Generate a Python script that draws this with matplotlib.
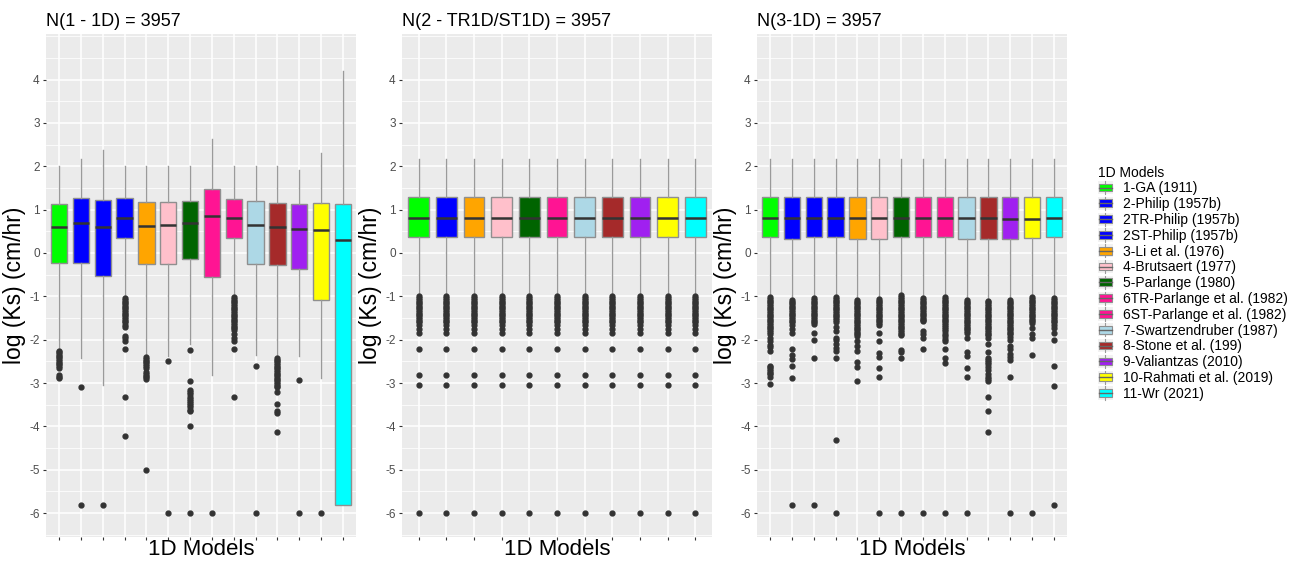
import matplotlib
matplotlib.use("Agg")
import matplotlib.pyplot as plt
from matplotlib.patches import Rectangle, Patch
from matplotlib.lines import Line2D
from matplotlib.legend_handler import HandlerBase
from matplotlib.ticker import MultipleLocator

plt.rcParams["font.family"] = ["Liberation Sans", "DejaVu Sans"]

# ---------------------------------------------------------------- data
models = ["1-GA (1911)", "2-Philip (1957b)", "2TR-Philip (1957b)", "2ST-Philip (1957b)",
          "3-Li et al. (1976)", "4-Brutsaert (1977)", "5-Parlange (1980)",
          "6TR-Parlange et al. (1982)", "6ST-Parlange et al. (1982)",
          "7-Swartzendruber (1987)", "8-Stone et al. (199)", "9-Valiantzas (2010)",
          "10-Rahmati et al. (2019)", "11-Wr (2021)"]
model_colors = ["#00FF00", "#0000FF", "#0000FF", "#0000FF", "#FFA500", "#FFC0CB",
                "#006400", "#FF1493", "#FF1493", "#ADD8E6", "#A52A2A", "#A020F0",
                "#FFFF00", "#00FFFF"]

titles = ["N(1 - 1D) = 3957", "N(2 - TR1D/ST1D) = 3957", "N(3-1D) = 3957"]

# Panel 1 : all 14 models
p1_models = list(range(14))
p1_q1 = [-0.22, -0.23, -0.52, 0.34, -0.25, -0.25, -0.14, -0.55, 0.34, -0.25, -0.27, -0.37, -1.09, -5.82]
p1_med = [0.59, 0.69, 0.61, 0.81, 0.63, 0.65, 0.68, 0.85, 0.81, 0.65, 0.59, 0.55, 0.54, 0.30]
p1_q3 = [1.14, 1.27, 1.23, 1.26, 1.18, 1.18, 1.21, 1.48, 1.25, 1.20, 1.15, 1.12, 1.15, 1.14]
p1_whislo = [-2.23, -2.42, -3.05, -1.00, -2.38, -2.38, -2.09, -2.81, -1.00, -2.35, -2.40, -2.38, -2.88, -5.82]
p1_whishi = [2.00, 2.17, 2.37, 2.00, 2.00, 2.00, 2.00, 2.62, 2.00, 2.00, 2.00, 1.92, 2.31, 4.20]
p1_fliers = [
    [-2.25, -2.29, -2.33, -2.37, -2.41, -2.45, -2.49, -2.53, -2.57, -2.61, -2.65, -2.81, -2.85, -2.88],
    [-3.09, -5.82],
    [-5.82],
    [-1.04, -1.08, -1.12, -1.16, -1.20, -1.24, -1.28, -1.32, -1.36, -1.40, -1.44, -1.48, -1.52,
     -1.56, -1.60, -1.65, -1.70, -1.92, -1.97, -2.04, -2.22, -3.31, -4.22],
    [-2.40, -2.44, -2.48, -2.52, -2.56, -2.60, -2.65, -2.75, -2.79, -2.83, -2.87, -2.91, -5.00],
    [-2.50, -6.00],
    [-2.23, -2.95, -3.16, -3.21, -3.26, -3.31, -3.36, -3.41, -3.46, -3.51, -3.56, -3.61, -3.65, -4.00, -6.00],
    [-6.00],
    [-1.02, -1.06, -1.10, -1.14, -1.18, -1.22, -1.26, -1.30, -1.34, -1.38, -1.42, -1.46, -1.50,
     -1.54, -1.58, -1.62, -1.66, -1.70, -1.74, -1.78, -1.88, -1.95, -2.04, -2.22, -3.31],
    [-2.60, -6.00],
    [-2.42, -2.46, -2.50, -2.54, -2.58, -2.62, -2.66, -2.70, -2.74, -2.78, -2.82, -2.86, -2.90,
     -2.94, -2.98, -3.02, -3.06, -3.10, -3.20, -3.48, -3.65, -3.70, -4.13],
    [-2.94, -6.00],
    [-6.00],
    [],
]

# Panel 2 : 11 models, identical statistics for every model
p2_models = [0, 1, 4, 5, 6, 7, 9, 10, 11, 12, 13]
p2_q1 = 0.36
p2_med = 0.81
p2_q3 = 1.28
p2_whislo = -1.00
p2_whishi = 2.17
p2_fliers = [-1.00, -1.04, -1.08, -1.12, -1.16, -1.20, -1.24, -1.28, -1.32, -1.36, -1.40, -1.44,
             -1.48, -1.52, -1.56, -1.60, -1.65, -1.75, -1.85, -2.22, -2.82, -3.05, -6.00]

# Panel 3 : all 14 models
p3_models = list(range(14))
p3_q1 = [0.36, 0.33, 0.36, 0.36, 0.33, 0.33, 0.36, 0.36, 0.36, 0.33, 0.32, 0.33, 0.34, 0.36]
p3_med = [0.81, 0.81, 0.81, 0.81, 0.81, 0.81, 0.81, 0.81, 0.81, 0.81, 0.80, 0.79, 0.79, 0.81]
p3_q3 = [1.28, 1.28, 1.28, 1.28, 1.28, 1.28, 1.28, 1.28, 1.28, 1.28, 1.28, 1.28, 1.28, 1.28]
p3_whislo = [-1.02, -1.08, -1.04, -1.02, -1.08, -1.06, -0.98, -1.04, -1.02, -1.08, -1.09, -1.08, -1.02, -1.04]
p3_whishi = [2.17] * 14
p3_fliers = [
    [-1.02, -1.06, -1.10, -1.14, -1.18, -1.22, -1.26, -1.30, -1.34, -1.38, -1.42, -1.46, -1.50,
     -1.54, -1.58, -1.62, -1.66, -1.70, -1.74, -1.78, -1.83, -1.88, -1.95, -2.04, -2.13, -2.17,
     -2.27, -2.60, -2.64, -2.68, -2.72, -2.76, -2.80, -2.85, -3.02],
    [-1.08, -1.12, -1.16, -1.20, -1.24, -1.28, -1.32, -1.36, -1.40, -1.44, -1.48, -1.52, -1.56,
     -1.60, -1.65, -1.75, -1.85, -2.22, -2.35, -2.45, -2.60, -2.89, -5.82],
    [-1.04, -1.08, -1.12, -1.16, -1.20, -1.24, -1.28, -1.32, -1.36, -1.40, -1.44, -1.48, -1.52,
     -1.56, -1.60, -1.63, -1.85, -2.00, -2.42, -5.82],
    [-1.02, -1.06, -1.10, -1.14, -1.18, -1.22, -1.26, -1.30, -1.34, -1.38, -1.42, -1.46, -1.50,
     -1.54, -1.60, -1.70, -1.80, -1.95, -2.00, -2.10, -2.20, -2.27, -2.43, -4.32, -6.00],
    [-1.08, -1.12, -1.16, -1.20, -1.24, -1.28, -1.32, -1.36, -1.40, -1.44, -1.48, -1.52, -1.56,
     -1.60, -1.64, -1.68, -1.72, -1.76, -1.80, -1.84, -1.88, -1.92, -2.02, -2.15, -2.27, -2.52,
     -2.63, -2.96],
    [-1.06, -1.10, -1.14, -1.18, -1.22, -1.26, -1.30, -1.34, -1.38, -1.42, -1.46, -1.50, -1.54,
     -1.58, -1.62, -1.65, -1.85, -2.02, -2.30, -2.40, -2.66, -2.86, -6.00],
    [-0.98, -1.02, -1.06, -1.10, -1.14, -1.18, -1.22, -1.26, -1.30, -1.34, -1.38, -1.42, -1.46,
     -1.50, -1.54, -1.58, -1.62, -1.66, -1.70, -1.74, -1.78, -1.82, -1.86, -1.90, -2.23, -2.29,
     -2.42, -6.00],
    [-1.04, -1.08, -1.12, -1.16, -1.20, -1.24, -1.28, -1.32, -1.36, -1.40, -1.44, -1.48, -1.52,
     -1.55, -1.58, -1.81, -1.88, -1.96, -2.22, -6.00],
    [-1.02, -1.06, -1.10, -1.14, -1.18, -1.22, -1.26, -1.30, -1.34, -1.38, -1.42, -1.46, -1.50,
     -1.54, -1.58, -1.62, -1.66, -1.70, -1.75, -1.80, -1.86, -1.92, -1.98, -2.04, -2.22, -2.42,
     -2.54, -6.00],
    [-1.08, -1.12, -1.16, -1.20, -1.24, -1.28, -1.32, -1.36, -1.40, -1.44, -1.48, -1.52, -1.56,
     -1.60, -1.64, -1.68, -1.72, -1.76, -1.80, -1.85, -1.96, -2.29, -2.37, -2.65, -2.85, -6.00],
    [-1.10, -1.14, -1.18, -1.22, -1.26, -1.30, -1.34, -1.38, -1.42, -1.46, -1.50, -1.54, -1.58,
     -1.62, -1.66, -1.70, -1.74, -1.78, -1.82, -1.86, -1.90, -1.96, -2.09, -2.28, -2.42, -2.47,
     -2.52, -2.57, -2.62, -2.70, -2.78, -2.86, -2.91, -2.96, -3.31, -3.64, -4.14],
    [-1.08, -1.12, -1.16, -1.20, -1.24, -1.28, -1.32, -1.36, -1.40, -1.44, -1.48, -1.52, -1.56,
     -1.60, -1.64, -1.68, -1.72, -1.76, -1.80, -1.84, -1.88, -1.94, -2.00, -2.15, -2.22, -2.32,
     -2.40, -2.46, -2.87, -6.00],
    [-1.02, -1.06, -1.10, -1.14, -1.18, -1.22, -1.26, -1.30, -1.34, -1.38, -1.42, -1.46, -1.50,
     -1.54, -1.58, -1.62, -1.73, -1.88, -1.96, -2.36, -6.00],
    [-1.04, -1.08, -1.12, -1.16, -1.20, -1.24, -1.28, -1.32, -1.36, -1.40, -1.44, -1.48, -1.52,
     -1.56, -1.60, -1.65, -1.73, -1.85, -2.00, -2.60, -3.06, -5.82],
]

y_ticks = [-6, -5, -4, -3, -2, -1, 0, 1, 2, 3, 4]

# ---------------------------------------------------------------- styling
PANEL_BG = "#EBEBEB"
BOX_EDGE = "#8F8F8F"
MEDIAN_C = "#333333"
FLIER_C = "#333333"


def build_stats(q1, med, q3, lo, hi, fl):
    return [dict(q1=a, med=b, q3=c, whislo=d, whishi=e, fliers=f)
            for a, b, c, d, e, f in zip(q1, med, q3, lo, hi, fl)]


def draw_panel(ax, stats, idx, title):
    n = len(stats)
    pos = list(range(1, n + 1))
    bp = ax.bxp(stats, positions=pos, widths=0.75, patch_artist=True, showcaps=False,
                boxprops=dict(edgecolor=BOX_EDGE, linewidth=1.0),
                whiskerprops=dict(color="#9A9A9A", linewidth=1.0),
                medianprops=dict(color=MEDIAN_C, linewidth=1.8),
                flierprops=dict(marker="o", markersize=3.5, markerfacecolor=FLIER_C,
                                markeredgecolor=FLIER_C, linestyle="none"),
                zorder=3)
    for patch, k in zip(bp["boxes"], idx):
        patch.set_facecolor(model_colors[k])
    ax.set_facecolor(PANEL_BG)
    ax.set_xlim(0.4, n + 0.6)
    ax.set_ylim(-6.55, 5.05)
    ax.set_xticks(pos)
    ax.set_xticklabels([""] * n)
    ax.set_yticks(y_ticks)
    ax.set_yticklabels([str(t) for t in y_ticks])
    ax.yaxis.set_minor_locator(MultipleLocator(0.5))
    ax.grid(True, which="major", color="white", linewidth=1.1, zorder=0)
    ax.grid(True, which="minor", axis="y", color="white", linewidth=0.55, zorder=0)
    ax.set_axisbelow(True)
    ax.tick_params(axis="both", which="major", length=2.5, width=0.8, color="#333333",
                   labelcolor="#4D4D4D", labelsize=8.5, pad=2)
    ax.tick_params(axis="y", which="minor", length=0)
    for s in ax.spines.values():
        s.set_visible(False)
    ax.set_title(title, loc="left", fontsize=13, pad=6)
    ax.set_ylabel("log (Ks) (cm/hr)", fontsize=16.5, labelpad=2)
    ax.set_xlabel("1D Models", fontsize=16, labelpad=-3)


W, H = 1291, 561
fig = plt.figure(figsize=(W / 100, H / 100), dpi=100)
fig.patch.set_facecolor("white")

panel_px = [(46, 356), (402, 712), (757, 1067)]
top_px, bot_px = 34, 537
axes = []
for (x0, x1) in panel_px:
    axes.append(fig.add_axes([x0 / W, (H - bot_px) / H, (x1 - x0) / W, (bot_px - top_px) / H]))

stats1 = build_stats(p1_q1, p1_med, p1_q3, p1_whislo, p1_whishi, p1_fliers)
n2 = len(p2_models)
stats2 = build_stats([p2_q1] * n2, [p2_med] * n2, [p2_q3] * n2,
                     [p2_whislo] * n2, [p2_whishi] * n2, [p2_fliers] * n2)
stats3 = build_stats(p3_q1, p3_med, p3_q3, p3_whislo, p3_whishi, p3_fliers)

draw_panel(axes[0], stats1, p1_models, titles[0])
draw_panel(axes[1], stats2, p2_models, titles[1])
draw_panel(axes[2], stats3, p3_models, titles[2])


class BoxKeyHandler(HandlerBase):
    """Small boxplot glyph used as a legend key."""

    def create_artists(self, legend, orig_handle, xdescent, ydescent, width, height,
                       fontsize, trans):
        x0, y0 = -xdescent, -ydescent
        cx = x0 + width / 2
        bg = Rectangle((x0, y0 - height * 0.15), width, height * 1.3,
                       facecolor="#F2F2F2", edgecolor="none", transform=trans)
        whisk = Line2D([cx, cx], [y0 - height * 0.15, y0 + height * 1.15],
                       color="#9A9A9A", linewidth=0.8, transform=trans)
        box = Rectangle((x0 + width * 0.08, y0 + height * 0.12), width * 0.84, height * 0.76,
                        facecolor=orig_handle.get_facecolor(), edgecolor=BOX_EDGE,
                        linewidth=0.8, transform=trans)
        med = Line2D([x0 + width * 0.08, x0 + width * 0.92], [y0 + height * 0.5] * 2,
                     color="#666666", linewidth=1.0, transform=trans)
        return [bg, whisk, box, med]


handles = [Patch(facecolor=c) for c in model_colors]
leg = fig.legend(handles, models, loc="upper left",
                 bbox_to_anchor=(1092 / W, 1 - 160 / H),
                 frameon=False, title="1D Models", alignment="left",
                 fontsize=10, title_fontsize=10, handlelength=1.1, handleheight=0.75,
                 handletextpad=0.7, labelspacing=0.13, borderaxespad=0,
                 handler_map={Patch: BoxKeyHandler()})

fig.savefig("out.png", dpi=100, facecolor="white")
